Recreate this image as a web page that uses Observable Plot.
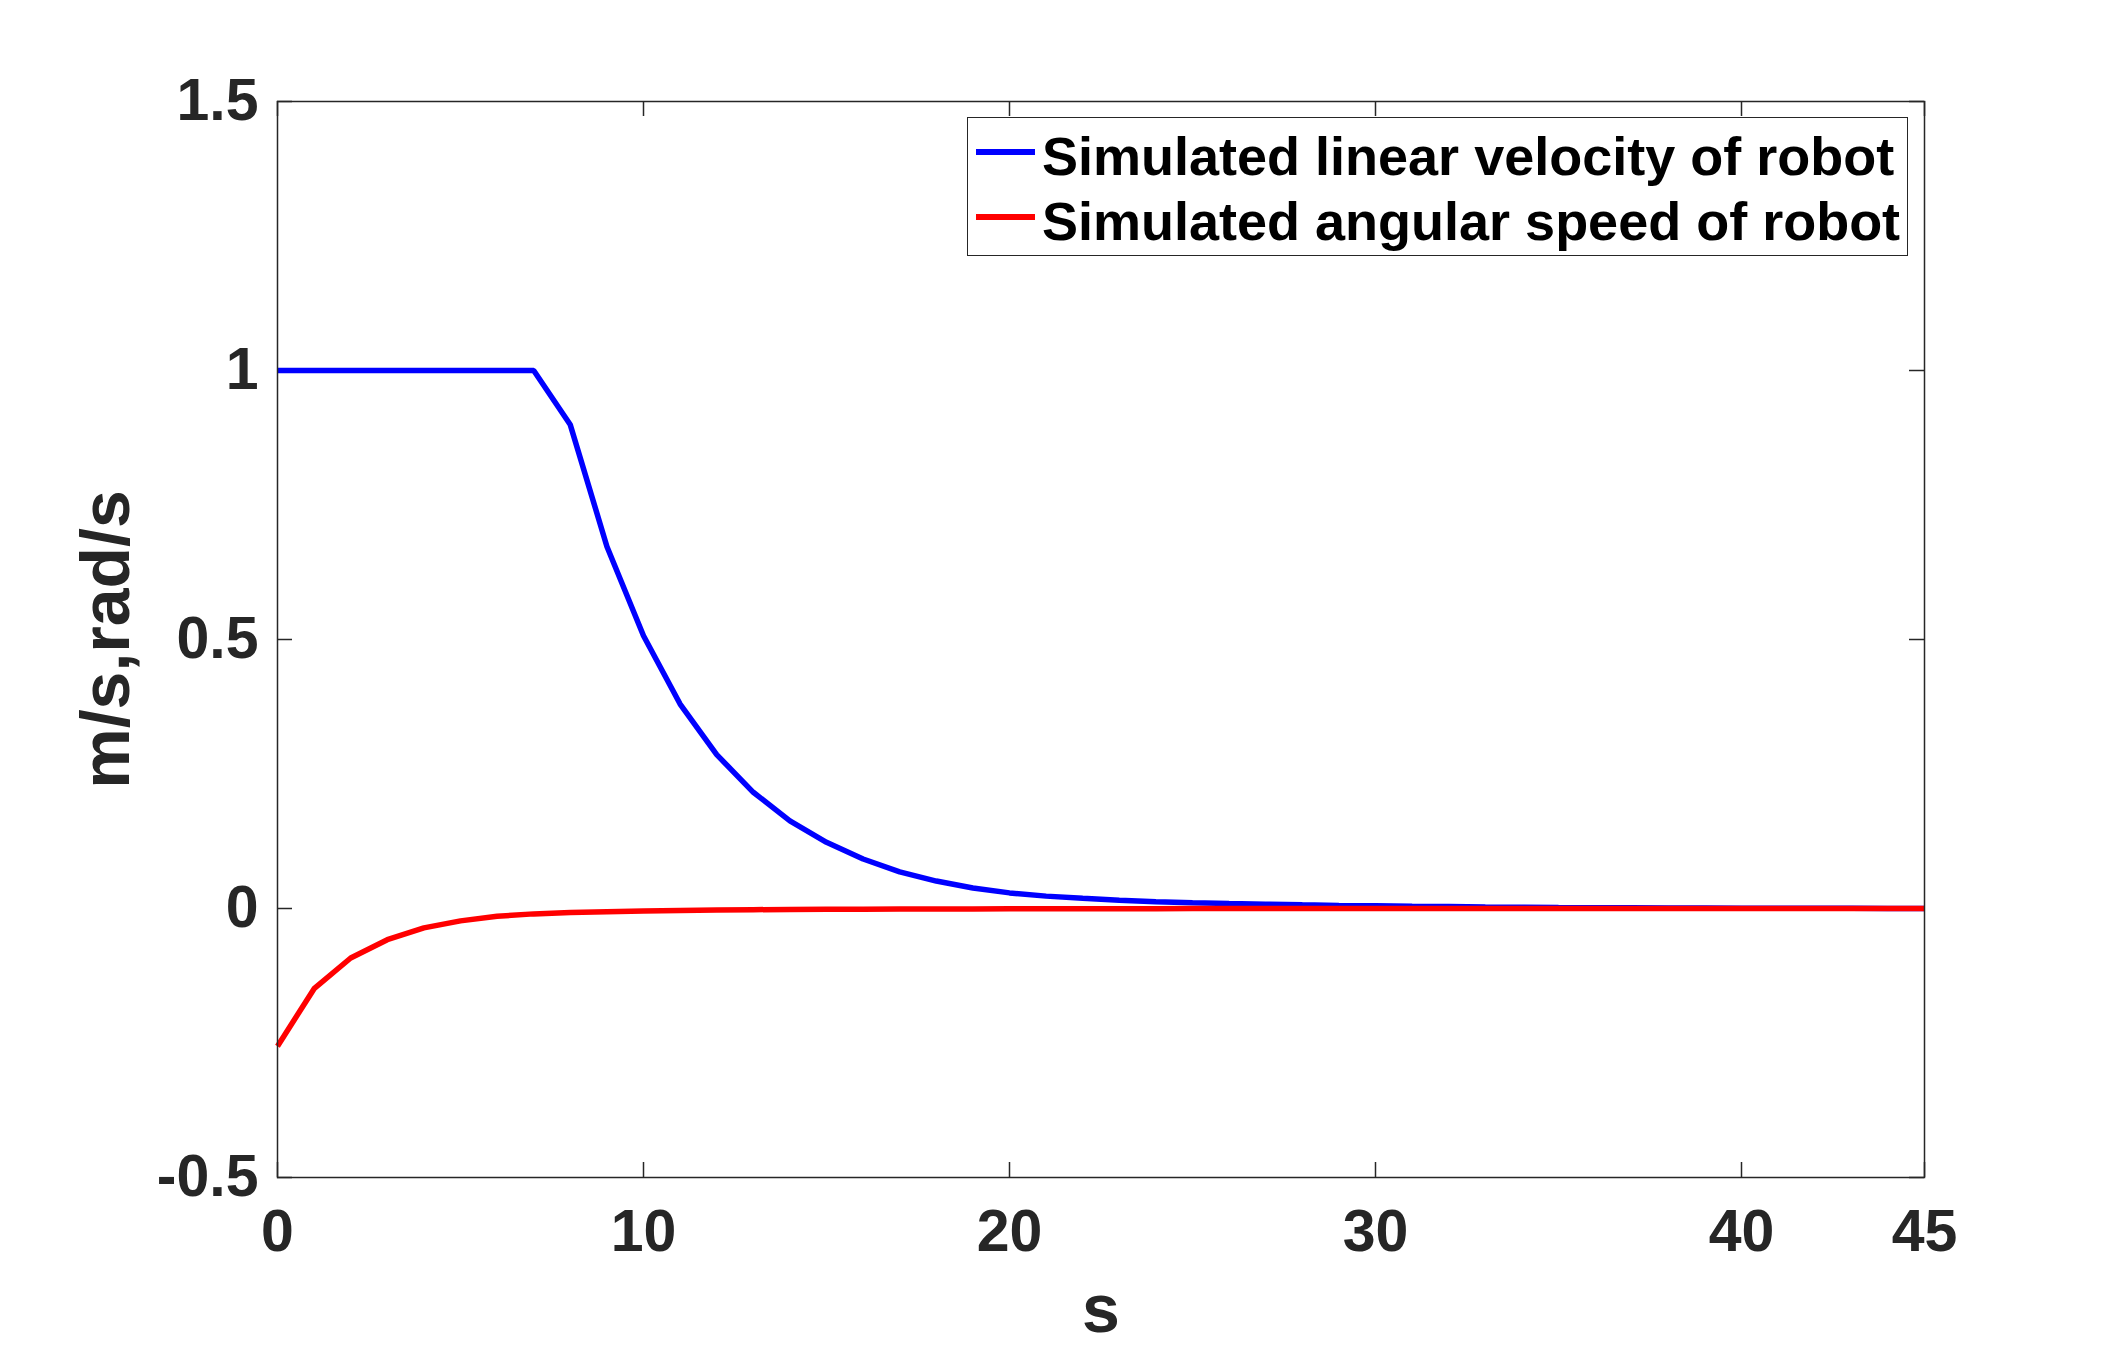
<!DOCTYPE html>
<html>
<head>
<meta charset="utf-8">
<script src="https://cdn.jsdelivr.net/npm/d3@7"></script>
<script src="https://cdn.jsdelivr.net/npm/@observablehq/plot@0.6"></script>
<style>
  html, body { margin: 0; padding: 0; background: #fff; }
  #wrap { position: relative; width: 2126px; height: 1348px; font-family: "Liberation Sans", Helvetica, Arial, sans-serif; font-weight: bold; }
  #legend { position: absolute; left: 967px; top: 117px; width: 941px; height: 139px; box-sizing: border-box; border: 1.5px solid #262626; background: #fff; }
  .lg-line { position: absolute; left: 8px; width: 59px; height: 5.5px; }
  .lg-text { position: absolute; left: 74px; font-size: 54px; line-height: 54px; color: #000; white-space: nowrap; }
</style>
</head>
<body>
<div id="wrap"></div>
<script>
// ---- data ----
const time = [0,1,2,3,4,5,6,7,8,9,10,11,12,13,14,15,16,17,18,19,20,21,22,23,24,25,26,27,28,29,30,31,32,33,34,35,36,37,38,39,40,41,42,43,44,45];
const linearVelocity = [1,1,1,1,1,1,1,1,0.899,0.673,0.507,0.380,0.286,0.216,0.163,0.123,0.092,0.068,0.051,0.038,0.029,0.023,0.019,0.0155,0.0124,0.0105,0.0092,0.008,0.0068,0.0058,0.005,0.0042,0.0036,0.003,0.0025,0.002,0.0016,0.0013,0.001,0.0008,0.0006,0.0005,0.0004,0.0003,0.0002,0.0002];
const angularSpeed = [-0.256,-0.149,-0.092,-0.058,-0.036,-0.023,-0.0145,-0.010,-0.0075,-0.006,-0.0045,-0.0035,-0.0028,-0.0022,-0.0018,-0.0015,-0.0012,-0.001,-0.0008,-0.0007,-0.0006,-0.0005,-0.0004,-0.0003,-0.0003,-0.0002,-0.0002,-0.0001,-0.0001,-0.0001,-0.0001,0,0,0,0,0,0,0,0,0,0,0,0,0,0,0];
const seriesNames = ["Simulated linear velocity of robot", "Simulated angular speed of robot"];
const seriesColors = ["#0000ff", "#ff0000"];
const xTicks = [0, 10, 20, 30, 40, 45];
const yTicks = [-0.5, 0, 0.5, 1, 1.5];
const xLabel = "s";
const yLabel = "m/s,rad/s";

// ---- build table ----
const seriesValues = [linearVelocity, angularSpeed];
const rows = [];
seriesNames.forEach((name, si) => {
  time.forEach((t, i) => rows.push({t, v: seriesValues[si][i], series: name}));
});

const W = 2126, H = 1348;
const mL = 277, mR = 202, mT = 101, mB = 171;
const pw = W - mL - mR, ph = H - mT - mB;
const tick = 15;
const ink = "#262626";

const chart = Plot.plot({
  width: W, height: H,
  marginLeft: mL, marginRight: mR, marginTop: mT, marginBottom: mB,
  style: {fontFamily: '"Liberation Sans", Helvetica, Arial, sans-serif', fontWeight: "bold", fontSize: "59px", color: ink, background: "#fff"},
  x: {domain: [0, 45]},
  y: {domain: [-0.5, 1.5]},
  color: {domain: seriesNames, range: seriesColors},
  marks: [
    // inward ticks on all four sides
    Plot.tickY(yTicks, {y: d => d, insetRight: pw - tick, stroke: ink, strokeWidth: 1.5}),
    Plot.tickY(yTicks, {y: d => d, insetLeft: pw - tick, stroke: ink, strokeWidth: 1.5}),
    Plot.tickX(xTicks, {x: d => d, insetTop: ph - tick, stroke: ink, strokeWidth: 1.5}),
    Plot.tickX(xTicks, {x: d => d, insetBottom: ph - tick, stroke: ink, strokeWidth: 1.5}),
    // tick labels
    Plot.axisX({ticks: xTicks, tickSize: 0, tickPadding: 32, tickFormat: d => String(d), label: null, fill: ink}),
    Plot.axisY({ticks: yTicks, tickSize: 0, tickPadding: 19, tickFormat: d => String(d), label: null, fill: ink}),
    // data lines
    Plot.line(rows, {x: "t", y: "v", z: "series", stroke: "series", strokeWidth: 5.5, strokeLinejoin: "miter", strokeLinecap: "butt"}),
    Plot.frame({stroke: ink, strokeWidth: 1.5}),
    // axis titles
    Plot.text([yLabel], {text: d => d, frameAnchor: "left", textAnchor: "middle", dx: -170, rotate: -90, lineAnchor: "middle", fontSize: 68, fill: ink}),
    Plot.text([xLabel], {text: d => d, frameAnchor: "bottom", textAnchor: "middle", dy: 133, lineAnchor: "middle", fontSize: 68, fill: ink})
  ]
});

const wrap = document.getElementById("wrap");
wrap.appendChild(chart);

// legend (overlaid inside the axes, top right)
const legend = document.createElement("div");
legend.id = "legend";
const lineTops = [34, 99];
const textTops = [11, 76];
seriesNames.forEach((name, i) => {
  const ln = document.createElement("div");
  ln.className = "lg-line";
  ln.style.top = (lineTops[i] - 2.75) + "px";
  ln.style.background = seriesColors[i];
  legend.appendChild(ln);
  const tx = document.createElement("div");
  tx.className = "lg-text";
  tx.style.top = textTops[i] + "px";
  tx.textContent = name;
  legend.appendChild(tx);
});
wrap.appendChild(legend);
</script>
</body>
</html>
